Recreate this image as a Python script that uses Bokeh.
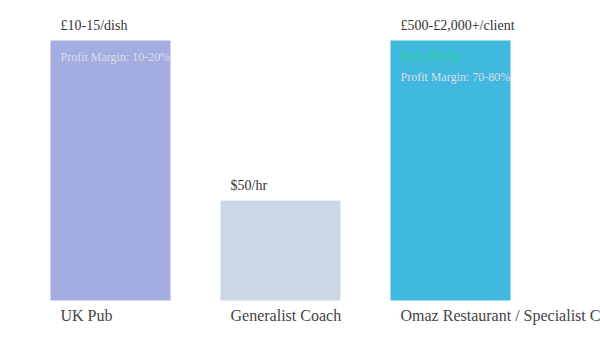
from bokeh.plotting import figure
from bokeh.models import Range1d, ColumnDataSource
from bokeh.core.properties import value
from bokeh.embed import file_html
from bokeh.resources import INLINE

categories = ["UK Pub", "Generalist Coach", "Omaz Restaurant / Specialist Coach"]
values = [100, 38.5, 100]
price_labels = ["£10-15/dish", "$50/hr", "£500-£2,000+/client"]
colors = ["#a3ade1", "#cbd7e6", "#41b9de"]
inner_labels = ["Profit Margin: 10-20%", "", "Profit Margin: 70-80%"]
hourly_labels = ["", "", "$18,000/hr"]

FONT = "Liberation Serif"

p = figure(width=600, height=340, output_backend="svg", toolbar_location=None,
           x_range=Range1d(-110/170, 490/170), y_range=Range1d(-40/2.6, 300/2.6),
           min_border=0)
p.axis.visible = False
p.grid.visible = False
p.outline_line_color = None
p.background_fill_color = "white"
p.border_fill_color = "white"

xs = list(range(len(categories)))
w = 120/170
lefts = [x - w/2 for x in xs]
has_hourly = [1 if h else 0 for h in hourly_labels]
src = ColumnDataSource(dict(x=xs, left=lefts, top=values, color=colors,
                            cat=categories, price=price_labels, inner=inner_labels,
                            hourly=hourly_labels, zero=[0]*len(xs),
                            inner_off=[16 + 20*h for h in has_hourly]))

p.vbar(x="x", width=w, top="top", bottom=0, fill_color="color", line_color=None, source=src)

# price labels above bars
p.text(x="left", y="top", text="price", source=src, x_offset=10, y_offset=-15,
       text_font=value(FONT), text_font_size="14px", text_color="#333333",
       text_baseline="middle", text_align="left")

# category labels below
p.text(x="left", y="zero", text="cat", source=src, x_offset=10, y_offset=15,
       text_font=value(FONT), text_font_size="16px", text_color="#444444",
       text_baseline="middle", text_align="left")

# inner labels
p.text(x="left", y="top", text="inner", source=src, x_offset=10, y_offset="inner_off",
       text_font=value(FONT), text_font_size="12px", text_color="#d9dde9",
       text_baseline="middle", text_align="left")
p.text(x="left", y="top", text="hourly", source=src, x_offset=10, y_offset=16,
       text_font=value(FONT), text_font_size="14px", text_color="#22d0a0",
       text_baseline="middle", text_align="left")

open("out.html", "w").write(file_html(p, INLINE))
